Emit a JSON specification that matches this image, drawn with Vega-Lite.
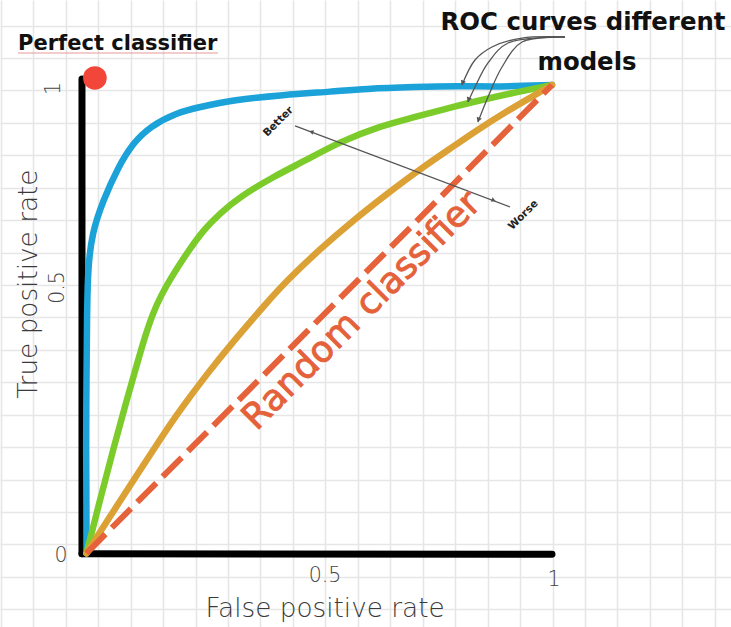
{
  "$schema": "https://vega.github.io/schema/vega-lite/v6.json",
  "width": 731,
  "height": 627,
  "autosize": {"type": "fit", "contains": "padding"},
  "padding": 0,
  "background": "white",
  "config": {
    "view": {"stroke": null},
    "axis": {"minExtent": 0, "maxExtent": 0, "offset": 0}
  },
  "datasets": {
    "frame": [
      {"g": "v", "i": 0, "x": -0.0097, "y": 1.013},
      {"g": "v", "i": 1, "x": -0.0097, "y": -0.001},
      {"g": "h", "i": 0, "x": -0.0097, "y": -0.001},
      {"g": "h", "i": 1, "x": 1.0, "y": -0.002}
    ],
    "curves": [
      {"model": "A", "i": 0, "x": 0.0, "y": 0.0},
      {"model": "A", "i": 1, "x": 0.0, "y": 0.1},
      {"model": "A", "i": 2, "x": -0.001, "y": 0.22},
      {"model": "A", "i": 3, "x": 0.0, "y": 0.37},
      {"model": "A", "i": 4, "x": 0.001, "y": 0.5},
      {"model": "A", "i": 5, "x": 0.003, "y": 0.61},
      {"model": "A", "i": 6, "x": 0.012, "y": 0.684},
      {"model": "A", "i": 7, "x": 0.035, "y": 0.752},
      {"model": "A", "i": 8, "x": 0.068, "y": 0.825},
      {"model": "A", "i": 9, "x": 0.1, "y": 0.876},
      {"model": "A", "i": 10, "x": 0.136, "y": 0.911},
      {"model": "A", "i": 11, "x": 0.194, "y": 0.941},
      {"model": "A", "i": 12, "x": 0.244, "y": 0.953},
      {"model": "A", "i": 13, "x": 0.315, "y": 0.968},
      {"model": "A", "i": 14, "x": 0.422, "y": 0.979},
      {"model": "A", "i": 15, "x": 0.529, "y": 0.986},
      {"model": "A", "i": 16, "x": 0.598, "y": 0.992},
      {"model": "A", "i": 17, "x": 0.706, "y": 0.996},
      {"model": "A", "i": 18, "x": 0.798, "y": 0.998},
      {"model": "A", "i": 19, "x": 0.884, "y": 0.996},
      {"model": "A", "i": 20, "x": 1.0, "y": 1.0},
      {"model": "B", "i": 0, "x": 0.0, "y": 0.0},
      {"model": "B", "i": 1, "x": 0.029, "y": 0.114},
      {"model": "B", "i": 2, "x": 0.058, "y": 0.224},
      {"model": "B", "i": 3, "x": 0.086, "y": 0.326},
      {"model": "B", "i": 4, "x": 0.108, "y": 0.402},
      {"model": "B", "i": 5, "x": 0.124, "y": 0.458},
      {"model": "B", "i": 6, "x": 0.1435, "y": 0.515},
      {"model": "B", "i": 7, "x": 0.161, "y": 0.552},
      {"model": "B", "i": 8, "x": 0.1794, "y": 0.585},
      {"model": "B", "i": 9, "x": 0.2153, "y": 0.6406},
      {"model": "B", "i": 10, "x": 0.2509, "y": 0.6904},
      {"model": "B", "i": 11, "x": 0.2868, "y": 0.726},
      {"model": "B", "i": 12, "x": 0.3298, "y": 0.7615},
      {"model": "B", "i": 13, "x": 0.4013, "y": 0.8042},
      {"model": "B", "i": 14, "x": 0.473, "y": 0.8399},
      {"model": "B", "i": 15, "x": 0.5446, "y": 0.8789},
      {"model": "B", "i": 16, "x": 0.6305, "y": 0.912},
      {"model": "B", "i": 17, "x": 0.7, "y": 0.93},
      {"model": "B", "i": 18, "x": 0.77, "y": 0.949},
      {"model": "B", "i": 19, "x": 0.84, "y": 0.966},
      {"model": "B", "i": 20, "x": 0.91, "y": 0.982},
      {"model": "B", "i": 21, "x": 1.0, "y": 1.0},
      {"model": "C", "i": 0, "x": 0.0, "y": 0.0},
      {"model": "C", "i": 1, "x": 0.058, "y": 0.09},
      {"model": "C", "i": 2, "x": 0.108, "y": 0.167},
      {"model": "C", "i": 3, "x": 0.158, "y": 0.243},
      {"model": "C", "i": 4, "x": 0.201, "y": 0.306},
      {"model": "C", "i": 5, "x": 0.258, "y": 0.382},
      {"model": "C", "i": 6, "x": 0.315, "y": 0.452},
      {"model": "C", "i": 7, "x": 0.387, "y": 0.535},
      {"model": "C", "i": 8, "x": 0.431, "y": 0.583},
      {"model": "C", "i": 9, "x": 0.502, "y": 0.65},
      {"model": "C", "i": 10, "x": 0.572, "y": 0.71},
      {"model": "C", "i": 11, "x": 0.646, "y": 0.768},
      {"model": "C", "i": 12, "x": 0.716, "y": 0.82},
      {"model": "C", "i": 13, "x": 0.787, "y": 0.868},
      {"model": "C", "i": 14, "x": 0.841, "y": 0.905},
      {"model": "C", "i": 15, "x": 0.9, "y": 0.942},
      {"model": "C", "i": 16, "x": 0.95, "y": 0.971},
      {"model": "C", "i": 17, "x": 1.0, "y": 1.0}
    ],
    "random": [
      {"x": 0.0, "y": 0.0},
      {"x": 1.0, "y": 1.0}
    ],
    "perfect": [
      {"x": 0.018, "y": 1.015}
    ],
    "arrows": [
      {"g": "a1", "i": 0, "x": 1.0279, "y": 1.1025},
      {"g": "a1", "i": 1, "x": 0.9356, "y": 1.1003},
      {"g": "a1", "i": 2, "x": 0.8711, "y": 1.0812},
      {"g": "a1", "i": 3, "x": 0.8346, "y": 1.0534},
      {"g": "a1", "i": 4, "x": 0.8067, "y": 1.0},
      {"g": "a2", "i": 0, "x": 1.0279, "y": 1.1025},
      {"g": "a2", "i": 1, "x": 0.9055, "y": 1.0897},
      {"g": "a2", "i": 2, "x": 0.8625, "y": 1.047},
      {"g": "a2", "i": 3, "x": 0.8346, "y": 0.9958},
      {"g": "a2", "i": 4, "x": 0.8196, "y": 0.9639},
      {"g": "a3", "i": 0, "x": 1.0279, "y": 1.1025},
      {"g": "a3", "i": 1, "x": 0.9356, "y": 1.0918},
      {"g": "a3", "i": 2, "x": 0.8926, "y": 1.0384},
      {"g": "a3", "i": 3, "x": 0.8625, "y": 0.9744},
      {"g": "a3", "i": 4, "x": 0.841, "y": 0.921},
      {"g": "bw", "i": 0, "x": 0.448, "y": 0.9125},
      {"g": "bw", "i": 1, "x": 0.9098, "y": 0.7395}
    ],
    "heads_models": [
      {"x": 0.8085, "y": 1.006},
      {"x": 0.8212, "y": 0.97},
      {"x": 0.8425, "y": 0.927}
    ],
    "head_better": [{"x": 0.4844, "y": 0.8996}],
    "head_worse": [{"x": 0.8733, "y": 0.7544}],
    "underline": [
      {"i": 0, "x": -0.147, "y": 1.0683},
      {"i": 1, "x": 0.2825, "y": 1.0683}
    ],
    "t_perfect": [{"x": -0.147, "y": 1.075, "label": "Perfect classifier"}],
    "t_roc": [
      {"x": 1.0666, "y": 1.1174, "label": "ROC curves different"},
      {"x": 1.0752, "y": 1.032, "label": "models"}
    ],
    "t_random": [{"x": 0.608, "y": 0.5014, "label": "Random classifier"}],
    "t_small": [
      {"x": 0.412, "y": 0.9216, "label": "Better"},
      {"x": 0.9383, "y": 0.7224, "label": "Worse"}
    ],
    "t_ytitle": [{"x": -0.1063, "y": 0.575, "label": "True positive rate"}],
    "t_xtitle": [{"x": 0.5124, "y": -0.136, "label": "False positive rate"}],
    "t_yticks": [
      {"x": -0.0569, "y": 0.9925, "label": "1"},
      {"x": -0.0483, "y": 0.5676, "label": "0.5"}
    ],
    "t_ticks": [
      {"x": -0.0548, "y": -0.0186, "label": "0"},
      {"x": 0.5124, "y": -0.0613, "label": "0.5"},
      {"x": 1.0043, "y": -0.0698, "label": "1"}
    ]
  },
  "encoding": {
    "x": {
      "field": "x",
      "type": "quantitative",
      "scale": {"domain": [-0.1858, 1.3845], "nice": false, "zero": false},
      "axis": {
        "values": [-0.1841, -0.1144, -0.0447, 0.025, 0.0948, 0.1645, 0.2342, 0.3039, 0.3737, 0.4434, 0.5131, 0.5828, 0.6526, 0.7223, 0.792, 0.8617, 0.9315, 1.0012, 1.0709, 1.1406, 1.2104, 1.2801, 1.3498],
        "grid": true, "labels": false, "ticks": false, "domain": false, "title": null,
        "gridColor": "#e6e6e6", "gridWidth": 1.6
      }
    },
    "y": {
      "field": "y",
      "type": "quantitative",
      "scale": {"domain": [-0.1574, 1.1815], "nice": false, "zero": false},
      "axis": {
        "values": [1.1269, 1.0577, 0.9884, 0.9192, 0.8499, 0.7807, 0.7114, 0.6422, 0.5729, 0.5037, 0.4344, 0.3652, 0.2959, 0.2267, 0.1574, 0.0882, 0.0189, -0.0503, -0.1196],
        "grid": true, "labels": false, "ticks": false, "domain": false, "title": null,
        "gridColor": "#e6e6e6", "gridWidth": 1.6
      }
    }
  },
  "layer": [
    {
      "data": {"name": "frame"},
      "mark": {"type": "line", "color": "#000000", "strokeWidth": 7, "strokeCap": "round"},
      "encoding": {"detail": {"field": "g"}, "order": {"field": "i"}}
    },
    {
      "data": {"name": "curves"},
      "mark": {"type": "line", "strokeWidth": 6.5, "strokeCap": "round", "strokeJoin": "round", "interpolate": "basis"},
      "encoding": {
        "color": {"field": "model", "type": "nominal", "scale": {"domain": ["A", "B", "C"], "range": ["#1ba2d8", "#7bcc2a", "#dca135"]}, "legend": null},
        "order": {"field": "i"}
      }
    },
    {
      "data": {"name": "random"},
      "mark": {"type": "line", "color": "#e5623b", "strokeWidth": 6, "strokeDash": [27, 9]},
      "encoding": {}
    },
    {
      "data": {"name": "perfect"},
      "mark": {"type": "point", "filled": true, "size": 560, "color": "#f2463a", "opacity": 1},
      "encoding": {}
    },
    {
      "data": {"name": "arrows"},
      "mark": {"type": "line", "color": "#555555", "strokeWidth": 1.3, "interpolate": "catmull-rom"},
      "encoding": {"detail": {"field": "g"}, "order": {"field": "i"}}
    },
    {
      "data": {"name": "heads_models"},
      "mark": {"type": "point", "shape": "triangle", "filled": true, "size": 30, "color": "#555555", "opacity": 1, "angle": 202},
      "encoding": {}
    },
    {
      "data": {"name": "head_better"},
      "mark": {"type": "point", "shape": "triangle", "filled": true, "size": 22, "color": "#555555", "opacity": 1, "angle": 290},
      "encoding": {}
    },
    {
      "data": {"name": "head_worse"},
      "mark": {"type": "point", "shape": "triangle", "filled": true, "size": 22, "color": "#555555", "opacity": 1, "angle": 110},
      "encoding": {}
    },
    {
      "data": {"name": "underline"},
      "mark": {"type": "line", "color": "#e08080", "strokeWidth": 1, "opacity": 0.8},
      "encoding": {"order": {"field": "i"}}
    },
    {
      "data": {"name": "t_perfect"},
      "mark": {"type": "text", "font": "DejaVu Sans", "fontSize": 21, "fontWeight": "bold", "align": "left", "baseline": "alphabetic", "color": "#111111"},
      "encoding": {"text": {"field": "label"}}
    },
    {
      "data": {"name": "t_roc"},
      "mark": {"type": "text", "font": "DejaVu Sans", "fontSize": 24.4, "fontWeight": "bold", "align": "center", "baseline": "alphabetic", "color": "#111111"},
      "encoding": {"text": {"field": "label"}}
    },
    {
      "data": {"name": "t_random"},
      "mark": {"type": "text", "font": "DejaVu Sans", "fontSize": 36, "fontWeight": "normal", "align": "center", "baseline": "alphabetic", "angle": 315, "color": "#e4613a", "stroke": "#e4613a", "strokeWidth": 0.9},
      "encoding": {"text": {"field": "label"}}
    },
    {
      "data": {"name": "t_small"},
      "mark": {"type": "text", "font": "DejaVu Sans", "fontSize": 10.5, "fontWeight": "bold", "align": "center", "baseline": "middle", "angle": 315, "color": "#222222"},
      "encoding": {"text": {"field": "label"}}
    },
    {
      "data": {"name": "t_ytitle"},
      "mark": {"type": "text", "font": "DejaVu Sans", "fontSize": 26.3, "fontWeight": 200, "align": "center", "baseline": "alphabetic", "angle": 270, "color": "#3a3a3a"},
      "encoding": {"text": {"field": "label"}}
    },
    {
      "data": {"name": "t_xtitle"},
      "mark": {"type": "text", "font": "DejaVu Sans", "fontSize": 26.3, "fontWeight": 200, "align": "center", "baseline": "alphabetic", "color": "#3a3a3a"},
      "encoding": {"text": {"field": "label"}}
    },
    {
      "data": {"name": "t_yticks"},
      "mark": {"type": "text", "font": "DejaVu Sans", "fontSize": 20.5, "fontWeight": 200, "align": "center", "baseline": "alphabetic", "angle": 270, "color": "#444444"},
      "encoding": {"text": {"field": "label"}}
    },
    {
      "data": {"name": "t_ticks"},
      "mark": {"type": "text", "font": "DejaVu Sans", "fontSize": 20.5, "fontWeight": 200, "align": "center", "baseline": "alphabetic", "color": "#444444"},
      "encoding": {"text": {"field": "label"}}
    }
  ]
}
